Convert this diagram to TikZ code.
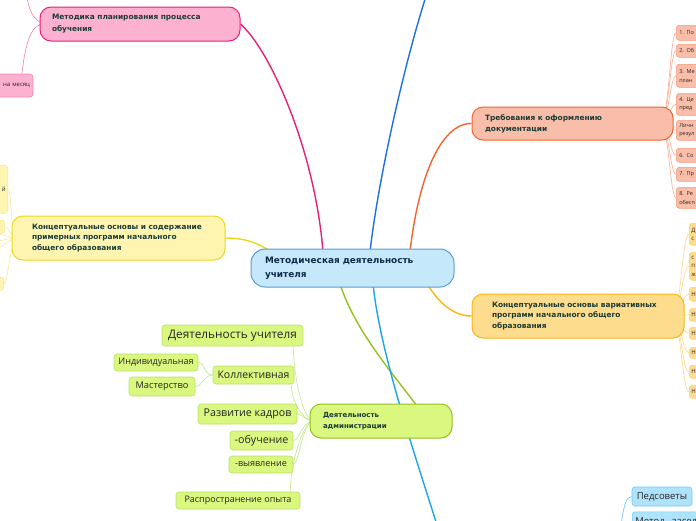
\documentclass[tikz,border=0pt]{standalone}
\usepackage{fontspec}
\setmainfont{Open Sans}
\newfontfamily\tfont{DejaVu Sans}
\usetikzlibrary{backgrounds}
\definecolor{ttext}{HTML}{1B3B36}
\definecolor{ctext}{HTML}{0F2A4A}
\definecolor{cfill}{HTML}{C5E9FB}
\definecolor{cdraw}{HTML}{5B9BD5}
\definecolor{pinkf}{HTML}{FDB1D0}
\definecolor{pinkd}{HTML}{E8207A}
\definecolor{pinkc}{HTML}{F48AB8}
\definecolor{oraf}{HTML}{F9BEA9}
\definecolor{orad}{HTML}{F4622E}
\definecolor{orac}{HTML}{F79A78}
\definecolor{oran}{HTML}{FCB49A}
\definecolor{ryf}{HTML}{FEDC8E}
\definecolor{ryd}{HTML}{F9B613}
\definecolor{ryc}{HTML}{FDD27A}
\definecolor{ryn}{HTML}{FDDB93}
\definecolor{lyf}{HTML}{FFF5B1}
\definecolor{lyd}{HTML}{EDD61A}
\definecolor{lyc}{HTML}{F5E88A}
\definecolor{lyn}{HTML}{F7EC9A}
\definecolor{grf}{HTML}{DAF77F}
\definecolor{grd}{HTML}{93C11F}
\definecolor{grc}{HTML}{B9E26A}
\definecolor{grn}{HTML}{C9E89A}
\definecolor{btop}{HTML}{1D6FE3}
\definecolor{bbot}{HTML}{1BA4EA}
\definecolor{bluf}{HTML}{AEE3FB}
\definecolor{blud}{HTML}{6ECDF6}
\tikzset{
  mainbox/.style={draw, line width=1pt, rounded corners=11pt, inner sep=0pt, align=left,
    text=ttext, font=\tfont\bfseries\fontsize{7.5}{11}\selectfont},
  subbox/.style={draw, line width=0.6pt, rounded corners=3pt, inner sep=0pt, align=center, text=black!85},
  conn/.style={line width=1.4pt},
  fan/.style={line width=0.7pt}
}
\begin{document}
\begin{tikzpicture}[x=1pt,y=-1pt]
\useasboundingbox (0,0) rectangle (696,520);
% ---------- main nodes
\node[mainbox, fill=cfill, draw=cdraw, text=ctext, rounded corners=14pt,
  font=\tfont\bfseries\fontsize{8.9}{14}\selectfont,
  minimum width=203pt, minimum height=38pt, text width=175pt] (center) at (352.5,268)
  {Методическая деятельность\\учителя};
\node[mainbox, fill=pinkf, draw=pinkd, minimum width=200pt, minimum height=34pt,
  text width=176pt, font=\tfont\bfseries\fontsize{7.4}{12}\selectfont] (pink) at (140,24)
  {Методика планирования процесса\\обучения};
\node[mainbox, fill=oraf, draw=orad, minimum width=201pt, minimum height=33pt,
  text width=175pt, font=\tfont\bfseries\fontsize{7.4}{11}\selectfont] (orange) at (572.5,123.5)
  {Требования к оформлению\\документации};
\node[mainbox, fill=ryf, draw=ryd, minimum width=212pt, minimum height=44pt,
  text width=172pt, font=\tfont\bfseries\fontsize{7.4}{10.5}\selectfont] (ryel) at (578,316)
  {Концептуальные основы вариативных\\программ начального общего\\образования};
\node[mainbox, fill=lyf, draw=lyd, minimum width=213pt, minimum height=44pt,
  text width=173pt, font=\tfont\bfseries\fontsize{7.4}{10.5}\selectfont] (lyel) at (118.5,238)
  {Концептуальные основы и содержание\\примерных программ начального\\общего образования};
\node[mainbox, fill=grf, draw=grd, minimum width=142pt, minimum height=34pt,
  text width=116pt, font=\tfont\bfseries\fontsize{7}{11}\selectfont] (green) at (381,421)
  {Деятельность\\администрации};
% ---------- pink children
\node[subbox, fill=pinkf, draw=pinkc, minimum width=53pt, minimum height=23pt,
  text width=47pt, align=right, font=\fontsize{6}{7}\selectfont] (napm) at (6.5,85.5) {на месяц};
% ---------- orange children
\foreach \i/\a/\b/\t in {1/25/40/{1. По},2/44/57/{2. Об},3/64/87/{3. Ме\\план},
  4/93/115/{4. Це\\пред},5/120/140/{Личн\\резул},6/148/162/{6. Со},7/167/181/{7. Пр},
  8/187/208/{8. Ре\\обесп}}{
  \node[subbox, fill=oraf, draw=orac, anchor=north west, minimum width=90pt,
    minimum height={(\b-\a)*1pt}, text width=84pt, align=left,
    font=\fontsize{5.5}{8.5}\selectfont] (oc\i) at (676,\a) {\t};
}
% ---------- right yellow children
\foreach \i/\a/\b/\t in {1/223/245/{Д\\с},2/252/280/{с\\п\\ж},3/287/301/{Н},4/308/321/{Н},
  5/327/339/{Н},6/347/358/{Н},7/365/378/{Н},8/385/398/{Н}}{
  \node[subbox, fill=ryf, draw=ryc, anchor=north west, minimum width=90pt,
    minimum height={(\b-\a)*1pt}, text width=86pt, align=left,
    font=\fontsize{6}{8.5}\selectfont] (yc\i) at (689,\a) {\t};
}
% ---------- left yellow children
\node[subbox, fill=lyf, draw=lyc, anchor=north east, minimum width=48pt, minimum height=48pt,
  text width=44pt, align=right, font=\fontsize{6}{8}\selectfont] (la) at (8,165) {й\\[14pt]};
\node[subbox, fill=lyf, draw=lyc, anchor=north east, minimum width=45pt, minimum height=13pt] (lb) at (5,220) {};
\node[subbox, fill=lyf, draw=lyc, anchor=north east, minimum width=44pt, minimum height=13pt] (lc) at (4,277) {};
% ---------- green children
\node[subbox, fill=grf, draw=grc, minimum width=141pt, minimum height=21pt, font=\fontsize{11.8}{12}\selectfont] (dt) at (232.5,335.5) {Деятельность учителя};
\node[subbox, fill=grf, draw=grc, minimum width=81pt, minimum height=18pt, font=\fontsize{10.5}{11}\selectfont] (kol) at (253.5,375) {Коллективная};
\node[subbox, fill=grf, draw=grc, minimum width=84pt, minimum height=17pt, font=\fontsize{9}{10}\selectfont] (ind) at (156,362.5) {Индивидуальная};
\node[subbox, fill=grf, draw=grc, minimum width=66pt, minimum height=19pt, font=\fontsize{9.3}{10}\selectfont] (mas) at (162,386.5) {Мастерство};
\node[subbox, fill=grf, draw=grc, minimum width=99pt, minimum height=20pt, font=\fontsize{10.7}{11}\selectfont] (raz) at (247.5,414) {Развитие кадров};
\node[subbox, fill=grf, draw=grc, minimum width=63pt, minimum height=19pt, font=\fontsize{10.7}{11}\selectfont] (obu) at (261.5,440.5) {-обучение};
\node[subbox, fill=grf, draw=grc, minimum width=64pt, minimum height=17pt, font=\fontsize{9}{10}\selectfont] (vyy) at (261,464.5) {-выявление};
\node[subbox, fill=grf, draw=grc, minimum width=124pt, minimum height=17pt, font=\fontsize{9}{10}\selectfont] (rasp) at (238,500.5) {Распространение опыта};
% ---------- blue children
\node[subbox, fill=bluf, draw=blud, minimum width=60pt, minimum height=19pt, font=\fontsize{9.5}{10}\selectfont] (ped) at (662,496.5) {Педсоветы};
\node[subbox, fill=bluf, draw=blud, anchor=north west, minimum width=130pt, minimum height=20pt,
  text width=124pt, align=left, font=\fontsize{9.5}{10}\selectfont] (met) at (632,511.5) {Метод. заседания};
\coordinate (ptop) at (26,-10);
\coordinate (btopend) at (428,-10);
\coordinate (bbotend) at (437,525);
\coordinate (bsub) at (621,525);
% ---------- connectors
\begin{scope}[on background layer]
\draw[conn, pinkd] (323,252) .. controls (315,150) and (270,50) .. (pink.east);
\draw[conn, btop] (370,252) .. controls (378,180) and (405,60) .. (btopend);
\draw[conn, orad] (410,252) .. controls (418,180) and (440,123) .. (orange.west);
\draw[conn, ryd] (428,285) .. controls (440,305) and (455,316) .. (ryel.west);
\draw[conn, lyd] (lyel.east) .. controls (245,238) and (258,243) .. (270,251);
\draw[conn, grd] (340,284) .. controls (355,330) and (390,370) .. (417,406);
\draw[conn, bbot] (373,284) .. controls (380,350) and (410,440) .. (bbotend);
\draw[fan, blud] (bsub) .. controls (624,505) and (626,496.5) .. (ped.west);
% pink fans
\draw[fan, pinkc] (44,24) .. controls (34,24) and (26,35) .. ([xshift=15.5pt]napm.north);
\draw[fan, pinkc] (44,23) .. controls (34,22) and (28,10) .. (ptop);
% orange fans
\foreach \i in {1,...,8}{
  \draw[fan, oran] (660,123.5) .. controls +(9,0) and +(-6,0) .. (oc\i.west);
}
% right yellow fans
\foreach \i in {1,...,8}{
  \draw[fan, ryn] (672,316) .. controls +(9,0) and +(-7,0) .. (yc\i.west);
}
% left yellow fans
\draw[fan, lyn] (18,238) .. controls +(-8,0) and +(4,0) .. (la.east);
\draw[fan, lyn] (18,238) .. controls +(-8,0) and +(4,0) .. (lb.east);
\draw[fan, lyn] (18,238) .. controls +(-8,0) and +(4,0) .. (lc.east);
\foreach \yy in {232,242,252}{
  \draw[fan, lyn] (18,238) .. controls +(-8,0) and +(6,0) .. (-10,\yy);
}
% green fans
\draw[fan, grn] (314,421) .. controls +(-12,0) and +(0,25) .. ([xshift=-10pt]dt.south east);
\draw[fan, grn] (314,421) .. controls +(-12,0) and +(0,15) .. ([xshift=-3pt]kol.south east);
\draw[fan, grn] (314,421) .. controls +(-10,0) and +(6,0) .. (raz.east);
\draw[fan, grn] (314,421) .. controls +(-12,0) and +(6,0) .. (obu.east);
\draw[fan, grn] (314,421) .. controls +(-12,0) and +(6,0) .. (vyy.east);
\draw[fan, grn] (314,421) .. controls +(-12,0) and +(0,-25) .. ([xshift=-10pt]rasp.north east);
\draw[fan, grn] (kol.west) .. controls +(-9,0) and +(7,0) .. (ind.east);
\draw[fan, grn] (kol.west) .. controls +(-9,0) and +(7,0) .. (mas.east);
\end{scope}
\end{tikzpicture}
\end{document}
